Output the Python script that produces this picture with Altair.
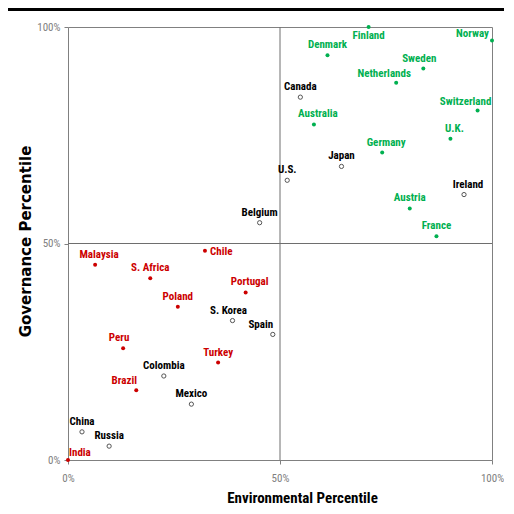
import altair as alt
import pandas as pd

countries = ["Finland", "Norway", "Denmark", "Sweden", "Netherlands", "Canada", "Switzerland",
             "Australia", "U.K.", "Germany", "Japan", "U.S.", "Ireland", "Austria", "Belgium",
             "France", "Chile", "Malaysia", "S. Africa", "Portugal", "Poland", "S. Korea", "Spain",
             "Peru", "Turkey", "Colombia", "Brazil", "Mexico", "China", "Russia", "India"]
environmental = [0.709, 1.000, 0.612, 0.838, 0.774, 0.548, 0.966,
                 0.580, 0.902, 0.741, 0.645, 0.517, 0.934, 0.806, 0.452,
                 0.869, 0.323, 0.064, 0.194, 0.419, 0.259, 0.388, 0.483,
                 0.130, 0.354, 0.226, 0.161, 0.291, 0.033, 0.097, 0.000]
governance = [1.000, 0.969, 0.935, 0.904, 0.871, 0.838, 0.807,
              0.775, 0.742, 0.710, 0.678, 0.646, 0.613, 0.581, 0.548,
              0.517, 0.483, 0.451, 0.420, 0.387, 0.354, 0.322, 0.290,
              0.258, 0.225, 0.194, 0.161, 0.129, 0.065, 0.032, 0.000]
group = ["green", "green", "green", "green", "green", "black", "green",
         "green", "green", "green", "black", "black", "black", "green", "black",
         "green", "red", "red", "red", "red", "red", "black", "black",
         "red", "red", "black", "red", "black", "black", "black", "red"]
label_side = ["S", "W", "N", "NW", "NWW", "N", "NWW",
              "NE", "NE", "NE", "N", "N", "NE", "N", "N",
              "N", "E", "NE", "N", "NE", "N", "NW", "NWW",
              "NW", "N", "N", "NWW", "N", "N", "N", "EI"]

df = pd.DataFrame({"country": countries, "env": environmental, "gov": governance,
                   "group": group, "side": label_side})

GREEN = "#00B050"
RED = "#CC0000"
color_scale = alt.Scale(domain=["green", "red", "black"], range=[GREEN, RED, "#000000"])
NARROW = "'Liberation Sans Narrow', 'Roboto Condensed', 'Arial Narrow', Roboto, sans-serif"

x_enc = alt.X("env:Q", scale=alt.Scale(domain=[0, 1], nice=False),
              axis=alt.Axis(values=[0, 0.5, 1], format=".0%", title="Environmental Percentile",
                            grid=False, domain=False, ticks=True, tickSize=4, tickColor="#808080",
                            labelColor="#808080", labelFont=NARROW, labelFontSize=11,
                            labelFlush=False,
                            labelPadding=8, titleFont=NARROW, titleFontSize=15,
                            titleFontWeight="bold", titleColor="#000000", titlePadding=7,
                            titleX=234))
y_enc = alt.Y("gov:Q", scale=alt.Scale(domain=[0, 1], nice=False),
              axis=alt.Axis(values=[0, 0.5, 1], format=".0%", title="Governance Percentile",
                            grid=False, domain=False, ticks=True, tickSize=4, tickColor="#808080",
                            labelColor="#808080", labelFont=NARROW, labelFontSize=11,
                            labelFlush=False,
                            labelPadding=4, titleFont="DejaVu Sans", titleFontSize=15,
                            titleFontWeight="bold", titleColor="#000000", titleX=-43,
                            titleY=214, titleAlign="center", titleBaseline="middle"))

base = alt.Chart(df)

filled = base.transform_filter(alt.datum.group != "black").mark_circle(size=16, opacity=1).encode(
    x=x_enc, y=y_enc, color=alt.Color("group:N", scale=color_scale, legend=None))

hollow = base.transform_filter(alt.datum.group == "black").mark_point(
    shape="circle", filled=False, size=18, stroke="#555555", strokeWidth=1, opacity=1).encode(
    x="env:Q", y="gov:Q")

side_props = {
    "N": dict(align="center", dx=0, dy=-10),
    "NE": dict(align="center", dx=4, dy=-10),
    "NW": dict(align="center", dx=-4, dy=-10),
    "NWW": dict(align="center", dx=-12, dy=-9),
    "S": dict(align="center", dx=0, dy=9),
    "W": dict(align="right", dx=-3, dy=-6),
    "E": dict(align="left", dx=5, dy=1),
    "EI": dict(align="left", dx=1, dy=-7),
}

labels = []
for side, props in side_props.items():
    labels.append(
        base.transform_filter(alt.datum.side == side).mark_text(
            font=NARROW, fontSize=11, fontWeight="bold", baseline="middle", **props
        ).encode(x="env:Q", y="gov:Q", text="country:N",
                 color=alt.Color("group:N", scale=color_scale, legend=None))
    )

vline = alt.Chart(pd.DataFrame({"v": [0.5]})).mark_rule(color="#6e6e6e", strokeWidth=1).encode(x="v:Q")
hline = alt.Chart(pd.DataFrame({"v": [0.5]})).mark_rule(color="#6e6e6e", strokeWidth=1).encode(y="v:Q")

top_rule = alt.Chart(pd.DataFrame({"v": [0]})).mark_rule(
    color="#000000", strokeWidth=3, clip=False).encode(
    x=alt.value(-60), x2=alt.value(436), y=alt.value(-17.5))

chart = alt.layer(vline, hline, filled, hollow, *labels, top_rule).properties(
    width=424, height=433,
    padding={"left": 60, "top": 19, "right": 12, "bottom": 46},
    autosize=alt.AutoSizeParams(type="none"),
).configure_view(stroke="#808080", strokeWidth=1)

chart.save("out.html", embed_options={"renderer": "svg", "actions": False})
